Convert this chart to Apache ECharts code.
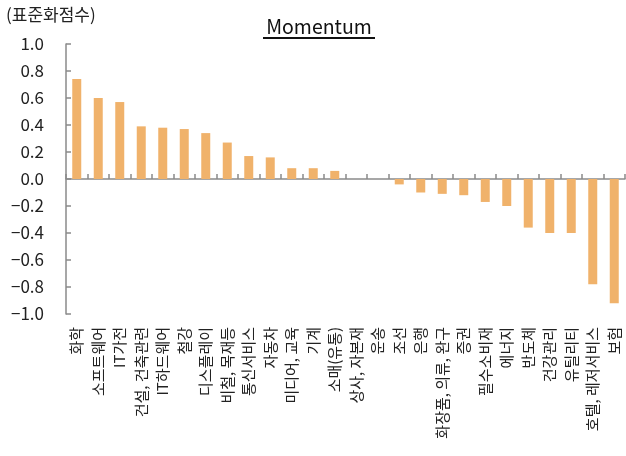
<!DOCTYPE html>
<html>
<head>
<meta charset="utf-8">
<script src="https://cdn.jsdelivr.net/npm/echarts@6/dist/echarts.min.js"></script>
<style>
html,body{margin:0;padding:0;background:#fff;}
#chart{width:626px;height:456px;}
</style>
</head>
<body>
<div id="chart"></div>
<script>
const categories = ['화학','소프트웨어','IT가전','건설, 건축관련','IT하드웨어','철강','디스플레이','비철, 목재등','통신서비스','자동차','미디어, 교육','기계','소매(유통)','상사, 자본재','운송','조선','은행','화장품, 의류, 완구','증권','필수소비재','에너지','반도체','건강관리','유틸리티','호텔, 레저서비스','보험'];
const momentum = [0.74,0.60,0.57,0.39,0.38,0.37,0.34,0.27,0.17,0.16,0.08,0.08,0.06,0.00,0.00,-0.04,-0.10,-0.11,-0.12,-0.17,-0.20,-0.36,-0.40,-0.40,-0.78,-0.92];
const yTicks = {min:-1.0, max:1.0, step:0.2};
const titleText = 'Momentum';
const unitText = '(표준화점수)';

const chart = echarts.init(document.getElementById('chart'), null, {renderer:'canvas'});
const font = '"Noto Sans CJK KR","Noto Sans",sans-serif';
const axisColor = '#8a8a8a';
chart.setOption({
  backgroundColor:'#fff',
  animation:false,
  grid:{left:66,right:1,top:44,bottom:142,containLabel:false},
  graphic:[
    {type:'text',left:6,top:6,style:{text:unitText,font:'17px '+font,fill:'#222'}},
    {type:'text',x:319,y:27,style:{text:titleText,font:'19.5px '+font,fill:'#111',align:'center',verticalAlign:'middle'}},
    {type:'line',shape:{x1:263,y1:38,x2:375,y2:38},style:{stroke:'#111',lineWidth:2}}
  ],
  xAxis:[
    {type:'category',data:categories,boundaryGap:true,
     axisLine:{onZero:true,lineStyle:{color:axisColor,width:1.5}},
     axisTick:{show:true,inside:true,length:5,interval:0,alignWithLabel:false,lineStyle:{color:axisColor,width:1.5}},
     axisLabel:{show:false,interval:0}},
    {type:'category',data:categories,boundaryGap:true,position:'bottom',
     axisLine:{show:false,onZero:false},axisTick:{show:false},
     axisLabel:{show:true,rotate:90,margin:13,interval:0,fontSize:15,color:'#222',fontFamily:font}}
  ],
  yAxis:{type:'value',min:yTicks.min,max:yTicks.max,interval:yTicks.step,
    axisLine:{show:true,lineStyle:{color:axisColor,width:1.5}},
    axisTick:{show:true,inside:true,length:5,lineStyle:{color:axisColor,width:1.5}},
    splitLine:{show:false},
    axisLabel:{margin:22,fontSize:17,color:'#222',fontFamily:font,
      formatter:v=>{const s=Math.abs(v).toFixed(1);return (v< -1e-9?'\u2212':'')+s;}}},
  series:[{type:'bar',xAxisIndex:0,data:momentum,barWidth:9,
    itemStyle:{color:'#F0B26B'}}]
});
</script>
</body>
</html>
